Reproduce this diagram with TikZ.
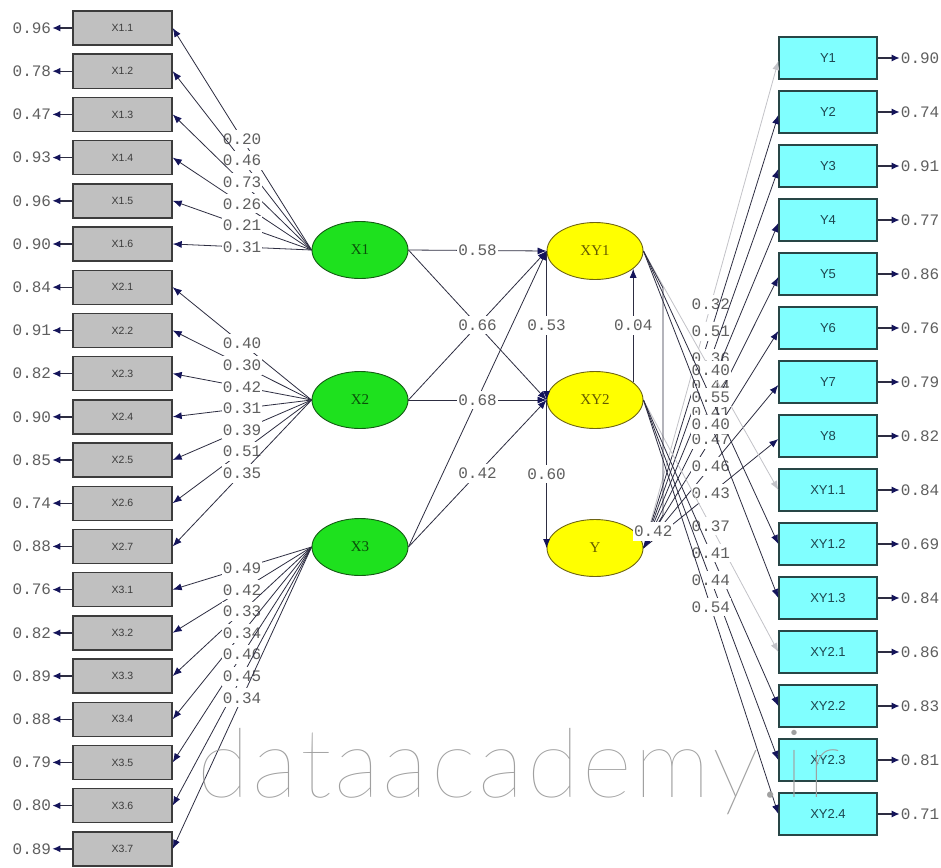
\documentclass[tikz,border=0pt]{standalone}
\usepackage{fontspec}
\usetikzlibrary{arrows.meta,shapes.geometric}

\newfontfamily\numfont{Liberation Mono}
\newfontfamily\boxfont{Liberation Sans}
\newfontfamily\latfont{Liberation Serif}
\IfFontExistsTF{Lato Thin}{\newfontfamily\wmfont[LetterSpace=3]{Lato Thin}}{%
  \IfFontExistsTF{Lato Light}{\newfontfamily\wmfont[LetterSpace=3]{Lato Light}}{%
    \newfontfamily\wmfont[LetterSpace=3]{Lato}}}

\definecolor{boxgray}{RGB}{192,192,192}
\definecolor{boxedge}{RGB}{60,60,60}
\definecolor{boxcyan}{RGB}{128,255,255}
\definecolor{cyanedge}{RGB}{40,70,70}
\definecolor{latgreen}{RGB}{30,225,30}
\definecolor{greenedge}{RGB}{20,90,20}
\definecolor{latyellow}{RGB}{255,255,0}
\definecolor{yellowedge}{RGB}{110,100,20}
\definecolor{pathcol}{RGB}{45,45,65}
\definecolor{tipcol}{RGB}{20,20,90}
\definecolor{numgray}{RGB}{95,95,95}
\definecolor{faint}{RGB}{195,195,200}
\definecolor{wmgray}{RGB}{160,160,160}

\tikzset{
  obsx/.style={draw=boxedge, fill=boxgray, line width=1.4pt, minimum width=99pt,
    minimum height=34pt, inner sep=0pt, text={rgb,255:red,60;green,60;blue,60},
    font=\boxfont\fontsize{10.5}{12}\selectfont},
  obsy/.style={draw=cyanedge, fill=boxcyan, line width=1.4pt, minimum width=98pt,
    minimum height=42pt, inner sep=0pt, text={rgb,255:red,30;green,70;blue,80},
    font=\boxfont\fontsize{13}{15}\selectfont},
  latx/.style={ellipse, draw=greenedge, fill=latgreen, line width=0.9pt,
    minimum width=96pt, minimum height=57pt, inner sep=0pt,
    text={rgb,255:red,10;green,80;blue,10}, font=\latfont\fontsize{15}{17}\selectfont},
  laty/.style={ellipse, draw=yellowedge, fill=latyellow, line width=0.9pt,
    minimum width=96pt, minimum height=57pt, inner sep=0pt,
    text={rgb,255:red,100;green,90;blue,0}, font=\latfont\fontsize{15}{17}\selectfont},
  coef/.style={fill=white, inner xsep=1pt, inner ysep=4pt, text=numgray,
    font=\numfont\fontsize{16}{17}\selectfont},
  errlbl/.style={inner sep=1pt, text=numgray, font=\numfont\fontsize{16}{17}\selectfont},
  loadpath/.style={draw=pathcol, line width=0.8pt, -{Latex[length=9pt,width=7pt,color=tipcol]}},
  faintpath/.style={draw=faint, line width=0.8pt, -{Latex[length=9pt,width=7pt,color=faint]}},
  errarrow/.style={draw=pathcol, line width=1.4pt, -{Latex[length=8pt,width=7pt,color=tipcol]}},
}

\begin{document}
\begin{tikzpicture}[x=1pt,y=-1pt]
\useasboundingbox[fill=white] (0,0) rectangle (941,867);

% observed indicators of the exogenous factors
\foreach \n/\t [count=\i from 0] in {x11/X1.1,x12/X1.2,x13/X1.3,x14/X1.4,x15/X1.5,x16/X1.6,
    x21/X2.1,x22/X2.2,x23/X2.3,x24/X2.4,x25/X2.5,x26/X2.6,x27/X2.7,
    x31/X3.1,x32/X3.2,x33/X3.3,x34/X3.4,x35/X3.5,x36/X3.6,x37/X3.7}
  \node[obsx] (\n) at (122.5,28+43.2*\i) {\t};

% observed indicators of the endogenous factors
\foreach \n/\t [count=\i from 0] in {y1/Y1,y2/Y2,y3/Y3,y4/Y4,y5/Y5,y6/Y6,y7/Y7,y8/Y8,
    xy11/XY1.1,xy12/XY1.2,xy13/XY1.3,xy21/XY2.1,xy22/XY2.2,xy23/XY2.3,xy24/XY2.4}
  \node[obsy] (\n) at (828,58+54*\i) {\t};

% latent variables
\node[latx] (lx1) at (360,250) {X1};
\node[latx] (lx2) at (360,400) {X2};
\node[latx] (lx3) at (360,547) {X3};
\node[laty] (lxy1) at (595,251) {XY1};
\node[laty] (lxy2) at (595,400) {XY2};
\node[laty] (ly) at (595,548) {Y};

% error variances, left column
\foreach \n/\v in {x11/0.96,x12/0.78,x13/0.47,x14/0.93,x15/0.96,x16/0.90,
    x21/0.84,x22/0.91,x23/0.82,x24/0.90,x25/0.85,x26/0.74,x27/0.88,
    x31/0.76,x32/0.82,x33/0.89,x34/0.88,x35/0.79,x36/0.80,x37/0.89}{
  \node[errlbl, anchor=east] (e\n) at ([xshift=-20pt]\n.west) {\v};
  \draw[errarrow] (\n.west) -- (e\n.east);
}

% error variances, right column
\foreach \n/\v in {y1/0.90,y2/0.74,y3/0.91,y4/0.77,y5/0.86,y6/0.76,y7/0.79,y8/0.82,
    xy11/0.84,xy12/0.69,xy13/0.84,xy21/0.86,xy22/0.83,xy23/0.81,xy24/0.71}{
  \node[errlbl, anchor=west] (e\n) at ([xshift=22pt]\n.east) {\v};
  \draw[errarrow] (\n.east) -- (e\n.west);
}

% loadings of X1, X2, X3
\foreach \n/\v in {x11/0.20,x12/0.46,x13/0.73,x14/0.26,x15/0.21,x16/0.31}
  \draw[loadpath] (lx1.west) -- (\n.east) node[coef, midway] {\v};
\foreach \n/\v in {x21/0.40,x22/0.30,x23/0.42,x24/0.31,x25/0.39,x26/0.51,x27/0.35}
  \draw[loadpath] (lx2.west) -- (\n.east) node[coef, midway] {\v};
\foreach \n/\v in {x31/0.49,x32/0.42,x33/0.33,x34/0.34,x35/0.46,x36/0.45,x37/0.34}
  \draw[loadpath] (lx3.west) -- (\n.east) node[coef, midway] {\v};

% structural paths
\draw[loadpath] (lx2.east) -- (lxy1.west);
\draw[loadpath] (lx3.east) -- (lxy1.west);
\draw[loadpath] (lx1.east) -- (lxy1.west) node[coef, midway] {0.58};
\draw[loadpath] (lx1.east) -- (lxy2.west) node[coef, midway] {0.66};
\draw[loadpath] (lx2.east) -- (lxy2.west) node[coef, midway] {0.68};
\draw[loadpath] (lx3.east) -- (lxy2.west) node[coef, midway] {0.42};
\draw[loadpath] (lxy1.west) -- (lxy2.west) node[coef, midway] {0.53};
\draw[loadpath] (lxy2.west) -- (ly.west) node[coef, midway] {0.60};
\draw[loadpath] (lxy2.25) -- (lxy1.-25) node[coef, midway] {0.04};

% loadings of Y
\draw[faintpath] (ly.east) -- ([yshift=-3pt]y1.west) node[coef, midway] {0.32};
\foreach \n/\v in {y2/0.51,y3/0.36,y4/0.44,y5/0.41,y6/0.47,y7/0.46,y8/0.43}
  \draw[loadpath] (ly.east) -- ([yshift=-3pt]\n.west) node[coef, midway] {\v};

% loadings of XY1 and XY2
\draw[faintpath] (lxy1.east) -- (xy11.west) node[coef, midway] {0.40};
\draw[loadpath] (lxy1.east) -- (xy12.west) node[coef, midway] {0.55};
\draw[loadpath] (lxy1.east) -- (xy13.west) node[coef, midway] {0.40};
\draw[faintpath] (lxy2.east) -- (xy21.west) node[coef, midway] {0.37};
\draw[loadpath] (lxy2.east) -- (xy22.west) node[coef, midway] {0.41};
\draw[loadpath] (lxy2.east) -- (xy23.west) node[coef, midway] {0.44};
\draw[loadpath] (lxy2.east) -- (xy24.west) node[coef, midway] {0.54};

% XY1 -> Y, routed to the right of XY2
\coordinate (bendA) at (663,288);
\coordinate (bendB) at (663,515);
\draw[loadpath] (lxy1.east) -- (bendA) -- (bendB) -- (ly.east) node[coef, midway] {0.42};

% watermark
\node[anchor=base west, inner sep=0pt, text=wmgray,
  font=\wmfont\fontsize{96}{100}\selectfont] (wm) at (197,797) {dataacademy.ir};
\end{tikzpicture}
\end{document}
